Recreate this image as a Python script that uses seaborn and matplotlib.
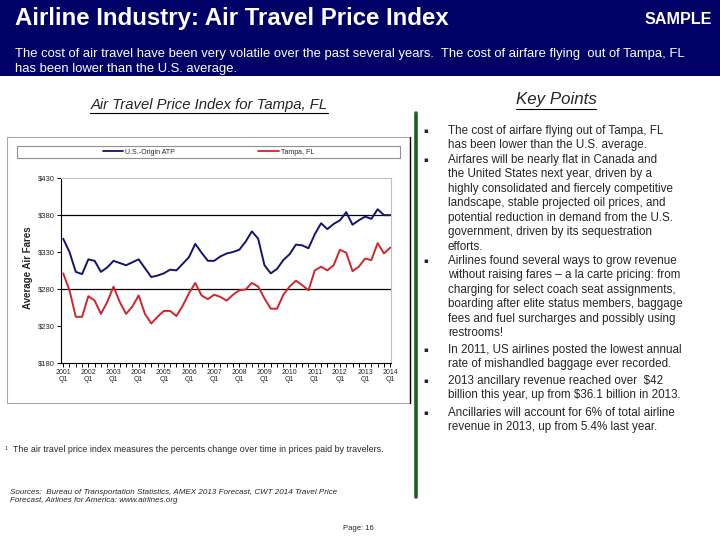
import matplotlib
matplotlib.use("Agg")
import matplotlib.pyplot as plt
from matplotlib.lines import Line2D
from matplotlib.patches import Rectangle
import seaborn as sns
import pandas as pd

# quarterly average air fares, 2001 Q1 .. 2014 Q1
quarters = [f"{y} Q{q}" for y in range(2001, 2015) for q in range(1, 5)][:53]
us_origin_atp = [348, 330, 303, 300, 320, 318, 303, 309, 318, 315,
                 312, 316, 320, 308, 296, 298, 301, 306, 305, 314,
                 323, 341, 329, 318, 318, 324, 328, 330, 333, 344,
                 358, 348, 312, 301, 307, 319, 327, 340, 339, 335,
                 354, 369, 361, 368, 373, 384, 367, 373, 378, 375,
                 388, 380, 380]
tampa_fl = [301, 278, 242, 242, 270, 264, 246, 262, 283, 262,
            246, 256, 271, 246, 233, 242, 250, 250, 243, 257,
            274, 288, 271, 266, 272, 269, 264, 272, 278, 279,
            288, 283, 267, 253, 253, 272, 283, 291, 285, 278,
            305, 310, 305, 312, 333, 329, 304, 310, 321, 319,
            342, 328, 336]
series_names = ["U.S.-Origin ATP", "Tampa, FL"]
year_labels = [f"{y}\nQ1" for y in range(2001, 2015)]
ytick_vals = [180, 230, 280, 330, 380, 430]
grid_vals = [280, 380]

bullets = [
    ["The cost of airfare flying out of Tampa, FL",
     "has been lower than the U.S. average."],
    ["Airfares will be nearly flat in Canada and",
     "the United States next year, driven by a",
     "highly consolidated and fiercely competitive",
     "landscape, stable projected oil prices, and",
     "potential reduction in demand from the U.S.",
     "government, driven by its sequestration",
     "efforts."],
    ["Airlines found several ways to grow revenue",
     "without raising fares \u2013 a la carte pricing: from",
     "charging for select coach seat assignments,",
     "boarding after elite status members, baggage",
     "fees and fuel surcharges and possibly using",
     "restrooms!"],
    ["In 2011, US airlines posted the lowest annual",
     "rate of mishandled baggage ever recorded."],
    ["2013 ancillary revenue reached over  $42",
     "billion this year, up from $36.1 billion in 2013."],
    ["Ancillaries will account for 6% of total airline",
     "revenue in 2013, up from 5.4% last year."],
]
bullet_y = [131, 160, 261, 350, 381, 413]

NAVY_BAND = "#000066"
BLUE = "#14146e"
RED = "#d0252b"

sns.set_theme(style="white")
plt.rcParams["font.family"] = ["Liberation Sans", "DejaVu Sans"]

W, H = 720, 540
fig = plt.figure(figsize=(7.2, 5.4), dpi=100)
fig.patch.set_facecolor("white")


def T(x, y, s, **kw):
    return fig.text(x / W, 1 - y / H, s, **kw)


def vline(x, y0, y1, **kw):
    fig.add_artist(Line2D([x / W, x / W], [1 - y0 / H, 1 - y1 / H],
                          transform=fig.transFigure, **kw))


# header band
fig.add_artist(Rectangle((0, 1 - 76 / H), 1, 76 / H, transform=fig.transFigure,
                         facecolor=NAVY_BAND, edgecolor="none", zorder=0))
T(15, 19, "Airline Industry: Air Travel Price Index", color="white",
  fontsize=17.3, fontweight="bold", va="center")
T(712, 19, "SAMPLE", color="white", fontsize=11.6, fontweight="bold",
  ha="right", va="center")
T(15, 54, "The cost of air travel have been very volatile over the past several years.  "
  "The cost of airfare flying  out of Tampa, FL", color="white", fontsize=9.35,
  va="center")
T(15, 69, "has been lower than the U.S. average.", color="white", fontsize=9.35,
  va="center")

# chart frame + legend box
fig.add_artist(Rectangle((7 / W, 1 - 403 / H), 403 / W, 266 / H, transform=fig.transFigure,
                         facecolor="none", edgecolor="#a8a8a8", lw=0.8))
vline(410, 137, 403, color="black", lw=1.0)
fig.add_artist(Rectangle((17 / W, 1 - 158 / H), 383 / W, 12 / H, transform=fig.transFigure,
                         facecolor="none", edgecolor="#909090", lw=0.8))

df = pd.DataFrame({
    "idx": list(range(len(quarters))) * 2,
    "quarter": quarters * 2,
    "fare": us_origin_atp + tampa_fl,
    "series": [series_names[0]] * len(quarters) + [series_names[1]] * len(quarters),
})

ax = fig.add_axes([61 / W, 1 - 362.5 / H, 330.5 / W, 184.2 / H])
sns.lineplot(data=df, x="idx", y="fare", hue="series", palette=[BLUE, RED],
             linewidth=1.4, ax=ax, legend=False)
for v in grid_vals:
    ax.axhline(v, color="black", lw=0.9, zorder=0)
ax.set_xlim(-0.35, 52.2)
ax.set_ylim(ytick_vals[0], ytick_vals[-1])
ax.set_yticks(ytick_vals)
ax.set_yticklabels([f"${v}" for v in ytick_vals])
ax.set_xticks(list(range(0, 53, 4)))
ax.set_xticklabels(year_labels)
ax.set_xticks(list(range(53)), minor=True)
ax.tick_params(axis="both", which="both", direction="out", length=3, width=0.7,
               color="black", bottom=True, left=True)
ax.tick_params(axis="y", labelsize=5.5, pad=1.5)
ax.tick_params(axis="x", labelsize=5, pad=1.5)
for lab in ax.get_xticklabels():
    lab.set_linespacing(1.1)
ax.set_xlabel("")
ax.set_ylabel("")
for side in ["left", "bottom"]:
    ax.spines[side].set_color("black")
    ax.spines[side].set_linewidth(0.8)
for side in ["top", "right"]:
    ax.spines[side].set_color("#c0c0c0")
    ax.spines[side].set_linewidth(0.8)

T(28, 268, "Average Air Fares", rotation=90, fontsize=7, fontweight="bold",
  ha="center", va="center")

handles = [Line2D([], [], color=BLUE, lw=1.3), Line2D([], [], color=RED, lw=1.3)]
fig.legend(handles, series_names, loc="center", bbox_to_anchor=(208.5 / W, 1 - 152 / H),
           ncol=2, frameon=False, fontsize=5, handlelength=2.9, handletextpad=0.3,
           columnspacing=12)

# titles with underline
t1 = T(209, 105, "Air Travel Price Index for Tampa, FL", fontsize=10.7, style="italic",
       ha="center", va="center")
t2 = T(556, 100, "Key Points", fontsize=12.2, style="italic", ha="center", va="center")
fig.canvas.draw()
rend = fig.canvas.get_renderer()
for t in [t1, t2]:
    bb = t.get_window_extent(rend)
    fig.add_artist(Line2D([bb.x0 / W, bb.x1 / W], [(bb.y0 - 1.2) / H, (bb.y0 - 1.2) / H],
                          transform=fig.transFigure, color="black", lw=0.8))

# green divider
vline(416, 113, 497, color="#1f5f1f", lw=2.6)

# key points
for lines, y0 in zip(bullets, bullet_y):
    T(423, y0, "\u25aa", fontsize=5, ha="left", va="center",
      family=["DejaVu Sans"])
    for k, line in enumerate(lines):
        T(448, y0 + k * 14.45, line, fontsize=8.4, va="center")

# footnote, sources, page
T(5, 448, "1", fontsize=3.8, va="center")
T(13, 450, "The air travel price index measures the percents change over time in prices paid by travelers.",
  fontsize=6.4, va="center")
T(10, 492, "Sources:  Bureau of Transportation Statistics, AMEX 2013 Forecast, CWT 2014 Travel Price",
  fontsize=5.8, style="italic", va="center")
T(10, 501, "Forecast, Airlines for America: www.airlines.org", fontsize=5.8,
  style="italic", va="center")
T(343, 528, "Page: 16", fontsize=5.5, va="center")

fig.savefig("out.png", dpi=100)
